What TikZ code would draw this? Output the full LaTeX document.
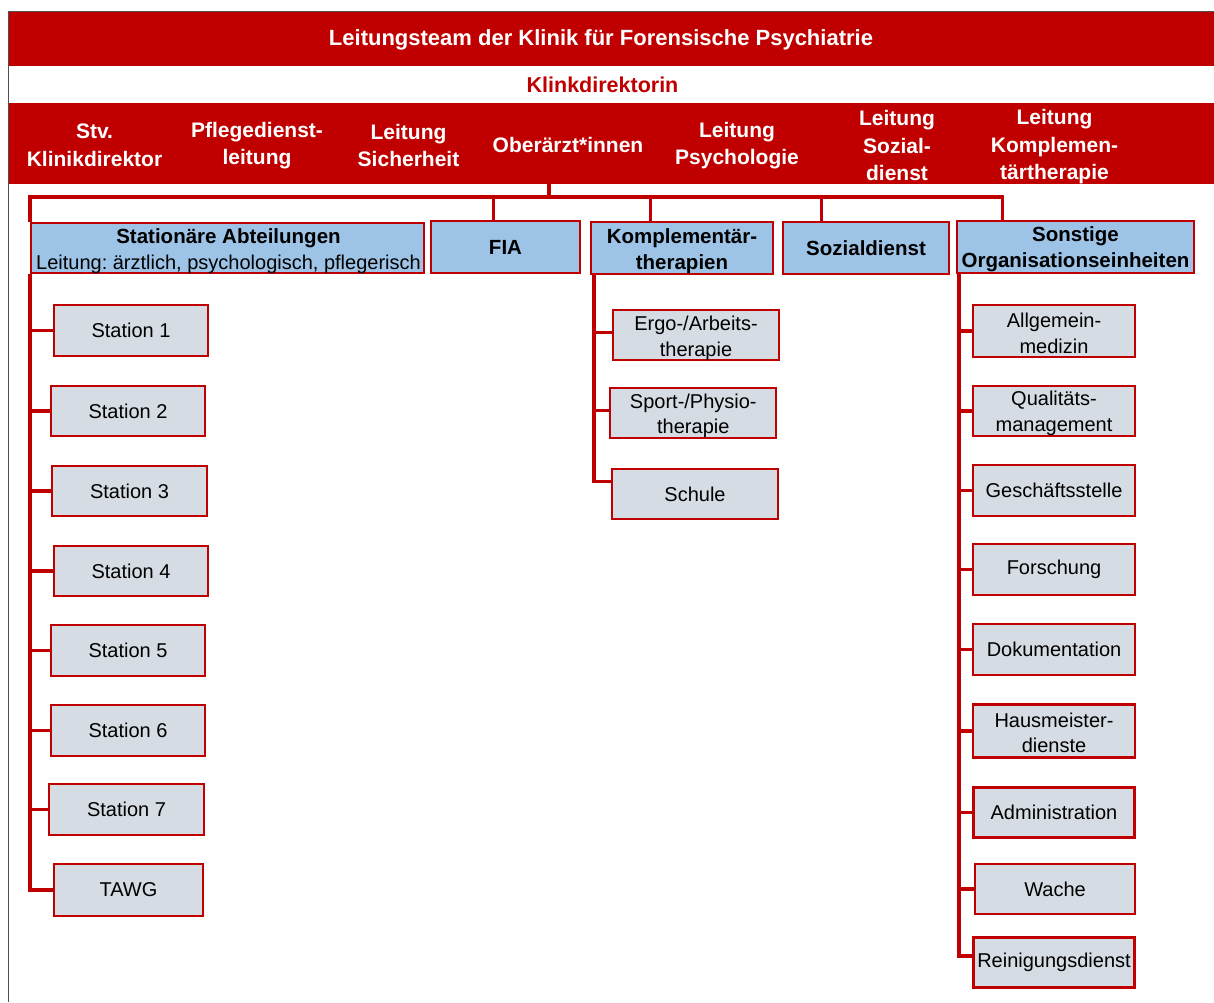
\documentclass[tikz,border=0pt]{standalone}
\usepackage{fontspec}
\setmainfont{Liberation Sans}
\definecolor{kred}{RGB}{192,0,0}
\definecolor{kblue}{RGB}{157,195,230}
\definecolor{kgray}{RGB}{214,220,228}
\definecolor{kframe}{RGB}{80,80,80}
\frenchspacing
\begin{document}
\begin{tikzpicture}[x=1pt,y=-1pt,
  box/.style={draw=kred, line width=2.2pt, fill=kgray, inner sep=0pt, align=center,
    font=\fontsize{20pt}{25.5pt}\selectfont},
  headbox/.style={draw=kred, line width=2.2pt, fill=kblue, inner sep=0pt, align=center,
    font=\bfseries\fontsize{20.5pt}{26.5pt}\selectfont},
  band/.style={fill=kred, draw=none, inner sep=0pt},
  blabel/.style={text=white, align=center, inner sep=0pt,
    font=\bfseries\fontsize{21pt}{27.5pt}\selectfont},
  conn/.style={draw=kred, line width=3.4pt},
]
\useasboundingbox (0,0) rectangle (1214,1002);
\fill[white] (0,0) rectangle (1214,1002);
% frame
\draw[kframe, line width=1pt] (8.5,1002) -- (8.5,11.5) -- (1214,11.5);
% bands
\node[band, minimum width=1205pt, minimum height=54pt] (band1) at (611.5,39) {};
\node[blabel, font=\bfseries\fontsize{22pt}{27pt}\selectfont] (title) at (601,40) {Leitungsteam der Klinik für Forensische Psychiatrie};
\node[text=kred, inner sep=0pt, font=\bfseries\fontsize{21.5pt}{27pt}\selectfont] (dir) at (602.5,85) {Klinkdirektorin};
\node[band, minimum width=1205pt, minimum height=81pt] (band2) at (611.5,143.5) {};
\node[blabel] (l1) at (94.5,145.5) {Stv.\\Klinikdirektor};
\node[blabel] (l2) at (257,145.5) {Pflegedienst-\\leitung};
\node[blabel] (l3) at (408.5,145.5) {Leitung\\Sicherheit};
\node[blabel] (l4) at (568,145) {Oberärzt*innen};
\node[blabel] (l5) at (737,145.5) {Leitung\\Psychologie};
\node[blabel] (l6) at (897,145.5) {Leitung\\Sozial-\\dienst};
\node[blabel] (l7) at (1054.5,147) {Leitung\\Komplemen-\\tärtherapie};
% department heads
\node[headbox, minimum width=393pt, minimum height=50pt] (stat) at (227.5,248) {};
\node[inner sep=0pt, align=center, font=\fontsize{20pt}{26.5pt}\selectfont] (statt) at (228.5,251)
  {\fontsize{20.5pt}{26.5pt}\selectfont\textbf{Stationäre Abteilungen}\\Leitung: ärztlich, psychologisch, pflegerisch};
\node[headbox, minimum width=149pt, minimum height=52pt] (fia) at (505.5,247) {FIA};
\node[headbox, minimum width=182pt, minimum height=52pt] (komp) at (682,248) {};
\node[inner sep=0pt, align=center, font=\bfseries\fontsize{20.5pt}{26.5pt}\selectfont] (kompt) at (682,251) {Komplementär-\\therapien};
\node[headbox, minimum width=166pt, minimum height=52pt] (sozial) at (866,248) {Sozialdienst};
\node[headbox, minimum width=237pt, minimum height=52pt] (sonst) at (1075.5,247) {};
\node[inner sep=0pt, align=center, font=\bfseries\fontsize{20.5pt}{26.5pt}\selectfont] (sonstt) at (1075.5,249) {Sonstige\\Organisationseinheiten};
% stations
\node[box, minimum width=154pt, minimum height=51pt] (s1) at (131,330.5) {Station 1};
\node[box, minimum width=154pt, minimum height=50pt] (s2) at (128,411) {Station 2};
\node[box, minimum width=155pt, minimum height=50pt] (s3) at (129.5,491) {Station 3};
\node[box, minimum width=154pt, minimum height=50pt] (s4) at (131,571) {Station 4};
\node[box, minimum width=154pt, minimum height=51pt] (s5) at (128,650.5) {Station 5};
\node[box, minimum width=154pt, minimum height=51pt] (s6) at (128,730.5) {Station 6};
\node[box, minimum width=155pt, minimum height=51pt] (s7) at (126.5,809.5) {Station 7};
\node[box, minimum width=149pt, minimum height=52pt] (tawg) at (128.5,890) {TAWG};
% complementary therapies
\node[box, minimum width=166pt, minimum height=50pt] (ergo) at (696,335) {};
\node[inner sep=0pt, align=center, font=\fontsize{20pt}{25.5pt}\selectfont] (ergot) at (696,338.5) {Ergo-/Arbeits-\\therapie};
\node[box, minimum width=166pt, minimum height=50pt] (sport) at (693.3,413) {};
\node[inner sep=0pt, align=center, font=\fontsize{20pt}{25.5pt}\selectfont] (sportt) at (693.3,416) {Sport-/Physio-\\therapie};
\node[box, minimum width=166pt, minimum height=50pt] (schule) at (695,494) {Schule};
% other units
\node[box, minimum width=162pt, minimum height=52pt] (allg) at (1054,331) {};
\node[inner sep=0pt, align=center, font=\fontsize{20pt}{25.5pt}\selectfont] (allgt) at (1054,333.5) {Allgemein-\\medizin};
\node[box, minimum width=162pt, minimum height=50pt] (qual) at (1054,411) {};
\node[inner sep=0pt, align=center, font=\fontsize{20pt}{25.5pt}\selectfont] (qualt) at (1054,413.5) {Qualitäts-\\management};
\node[box, minimum width=162pt, minimum height=51pt] (gesch) at (1054,490.5) {Geschäftsstelle};
\node[box, minimum width=162pt, minimum height=51pt] (forsch) at (1054,569.5) {Forschung};
\node[box, minimum width=162pt, minimum height=51pt] (doku) at (1054,649.5) {Dokumentation};
\node[box, minimum width=162pt, minimum height=53pt] (haus) at (1054,731) {};
\node[inner sep=0pt, align=center, font=\fontsize{20pt}{25.5pt}\selectfont] (haust) at (1054,733) {Hausmeister-\\dienste};
\node[box, minimum width=161pt, minimum height=50pt] (admin) at (1054,812.5) {Administration};
\node[box, minimum width=160pt, minimum height=50pt] (wache) at (1055,889) {Wache};
\node[box, minimum width=161pt, minimum height=50pt] (rein) at (1054,962.5) {Reinigungsdienst};
% connectors
\coordinate (jt) at (549,197);
\coordinate (hr) at (1002.5,197);
\coordinate (xf) at (493.5,197);
\coordinate (xk) at (650.5,197);
\coordinate (xs) at (821.5,197);
\draw[conn] (band2.south -| jt) -- (jt);
\draw[conn] (stat.north west) -- (stat.north west |- jt) -- (hr) -- (hr |- sonst.north);
\draw[conn] (xf) -- (xf |- fia.north);
\draw[conn] (xk) -- (xk |- komp.north);
\draw[conn] (xs) -- (xs |- sozial.north);
% station spine
\draw[conn] (stat.south west) -- (stat.south west |- tawg.west) -- (tawg.west);
\foreach \n in {s1,s2,s3,s4,s5,s6,s7}
  \draw[conn] (stat.south west |- \n.west) -- (\n.west);
% complementary spine
\coordinate (ks) at ([xshift=4pt]komp.south west);
\draw[conn] (ks) -- (ks |- 0,481.7) -- (schule.west |- 0,481.7);
\draw[conn] (ks |- 0,332.3) -- (ergo.west |- 0,332.3);
\draw[conn] (ks |- 0,410.7) -- (sport.west |- 0,410.7);
% other units spine
\coordinate (os) at ([xshift=3pt]sonst.south west);
\draw[conn] (os) -- (os |- 0,956) -- (rein.west |- 0,956);
\foreach \n in {allg,qual,gesch,forsch,doku,haus,admin,wache}
  \draw[conn] (os |- \n.west) -- (\n.west);
\end{tikzpicture}
\end{document}
